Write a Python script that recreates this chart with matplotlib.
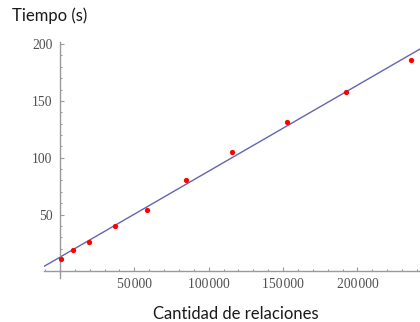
import numpy as np
import matplotlib
matplotlib.use('Agg')
import matplotlib.pyplot as plt
from matplotlib.ticker import MultipleLocator, FixedLocator, FuncFormatter

# Measured run times against number of relations
relaciones = [1000, 8500, 19700, 37000, 58700, 84700, 115500, 152500, 192300, 235800]
tiempo = [11.2, 18.6, 26.0, 40.0, 54.0, 80.0, 105.0, 131.6, 158.0, 185.8]

x_ticks = [50000, 100000, 150000, 200000]
y_ticks = [50, 100, 150, 200]

# Linear fit through the measurements
slope, intercept = np.polyfit(relaciones, tiempo, 1)

axis_gray = '#9a9a9a'
label_gray = '#505050'
serif = ['Liberation Serif', 'DejaVu Serif']

fig = plt.figure(figsize=(4.2, 3.22), dpi=100)
ax = fig.add_axes([0.1048, 0.138, 0.895, 0.732])

xlo, xhi = -10700, 242000
xs = np.array([xlo, xhi])
ax.plot(xs, intercept + slope * xs, color='#6464b4', lw=1.0, zorder=2)
ax.plot(relaciones, tiempo, 'o', color='#ff0000', markersize=3.8, markeredgewidth=0, zorder=3)

ax.set_xlim(xlo, xhi)
ax.set_ylim(-5.5, 202)

# axes cross at the origin, Mathematica style
ax.spines['left'].set_position(('data', 0))
ax.spines['bottom'].set_position(('data', 0))
ax.spines['top'].set_visible(False)
ax.spines['right'].set_visible(False)
for s in ['left', 'bottom']:
    ax.spines[s].set_color(axis_gray)
    ax.spines[s].set_linewidth(1.0)

ax.xaxis.set_major_locator(FixedLocator(x_ticks))
ax.yaxis.set_major_locator(FixedLocator(y_ticks))
ax.xaxis.set_minor_locator(MultipleLocator(10000))
ax.yaxis.set_minor_locator(MultipleLocator(10))
ax.xaxis.set_major_formatter(FuncFormatter(lambda v, p: f'{int(v):,}'.replace(',', '\u200a')))

ax.tick_params(which='both', direction='in', color=axis_gray, width=0.8)
ax.tick_params(which='major', length=3.0)
ax.tick_params(which='minor', length=1.6)
ax.tick_params(axis='y', which='major', pad=5.5)
ax.tick_params(axis='x', which='major', pad=5)
for lab in ax.get_xticklabels() + ax.get_yticklabels():
    lab.set_family(serif)
    lab.set_fontsize(9.8)
    lab.set_color(label_gray)

fig.text(12 / 420, 1 - 21 / 322, 'Tiempo (s)', family='Lato', fontsize=12,
         color='#1a1a1a', ha='left', va='baseline')
fig.text(236 / 420, 3 / 322, 'Cantidad de relaciones', family='Lato', fontsize=12,
         color='#1a1a1a', ha='center', va='baseline')

fig.savefig('out.png', dpi=100)
